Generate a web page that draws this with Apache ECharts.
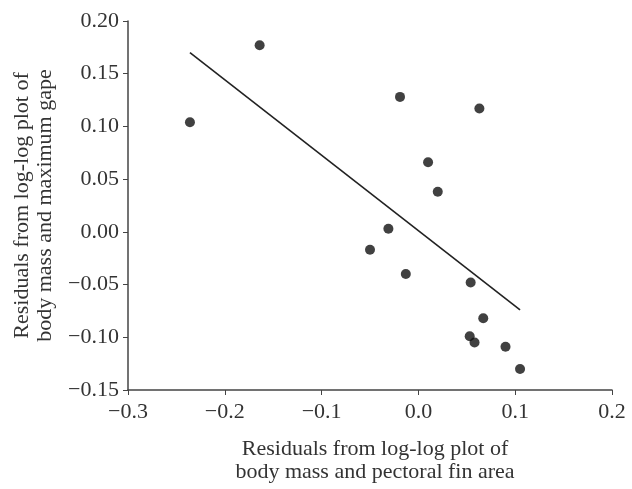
<!DOCTYPE html>
<html>
<head>
<meta charset="utf-8">
<script src="https://cdn.jsdelivr.net/npm/echarts@6/dist/echarts.min.js"></script>
<style>html,body{margin:0;padding:0;background:#fff}#c{width:632px;height:489px}</style>
</head>
<body>
<div id="c"></div>
<script>
// Data
var finResiduals = [-0.236, -0.164, -0.019, 0.063, 0.010, 0.020, -0.031, -0.050, -0.013, 0.054, 0.067, 0.053, 0.058, 0.090, 0.105];
var gapeResiduals = [0.104, 0.177, 0.128, 0.117, 0.066, 0.038, 0.003, -0.017, -0.040, -0.048, -0.082, -0.099, -0.105, -0.109, -0.130];
var fitX = [-0.236, 0.105];
var fitY = [0.170, -0.074];
var xTicks = {min: -0.3, max: 0.2, interval: 0.1};
var yTicks = {min: -0.15, max: 0.20, interval: 0.05};
var xTitle = 'Residuals from log-log plot of\nbody mass and pectoral fin area';
var yTitle = 'Residuals from log-log plot of\nbody mass and maximum gape';

var points = finResiduals.map(function (x, i) { return [x, gapeResiduals[i]]; });
var fitLine = fitX.map(function (x, i) { return [x, fitY[i]]; });

function fmt(d) {
  return function (v) {
    var s = Math.abs(v) < 1e-9 ? (0).toFixed(d) : v.toFixed(d);
    return s.replace('-', '\u2212');
  };
}

var font = '"Liberation Serif", "DejaVu Serif", serif';
var chart = echarts.init(document.getElementById('c'), null, {renderer: 'canvas'});
chart.setOption({
  animation: false,
  backgroundColor: '#fff',
  grid: {left: 128, right: 20, top: 21, bottom: 93, containLabel: false},
  xAxis: {
    type: 'value', min: xTicks.min, max: xTicks.max, interval: xTicks.interval,
    name: xTitle, nameLocation: 'middle', nameGap: 48,
    nameTextStyle: {fontFamily: font, fontSize: 22, color: '#333', lineHeight: 23, padding: [0, 0, 0, 10]},
    axisLine: {onZero: false, lineStyle: {color: '#444', width: 1.5}},
    axisTick: {show: true, inside: false, length: 5, lineStyle: {color: '#444', width: 1}},
    axisLabel: {fontFamily: font, fontSize: 22, color: '#333', margin: 11, formatter: fmt(1)},
    splitLine: {show: false}
  },
  yAxis: {
    type: 'value', min: yTicks.min, max: yTicks.max, interval: yTicks.interval,
    name: yTitle, nameLocation: 'middle', nameGap: 66, nameRotate: 90,
    nameTextStyle: {fontFamily: font, fontSize: 22, color: '#333', lineHeight: 23},
    axisLine: {onZero: false, lineStyle: {color: '#444', width: 1.5}},
    axisTick: {show: true, inside: false, length: 5, lineStyle: {color: '#444', width: 1}},
    axisLabel: {fontFamily: font, fontSize: 22, color: '#333', margin: 9, formatter: fmt(2)},
    splitLine: {show: false}
  },
  series: [
    {
      type: 'line', data: fitLine, symbol: 'none',
      lineStyle: {color: '#222', width: 1.6}, z: 2
    },
    {
      type: 'scatter', data: points, symbol: 'circle', symbolSize: 10,
      itemStyle: {color: '#111'}, z: 3
    }
  ]
});
</script>
</body>
</html>
